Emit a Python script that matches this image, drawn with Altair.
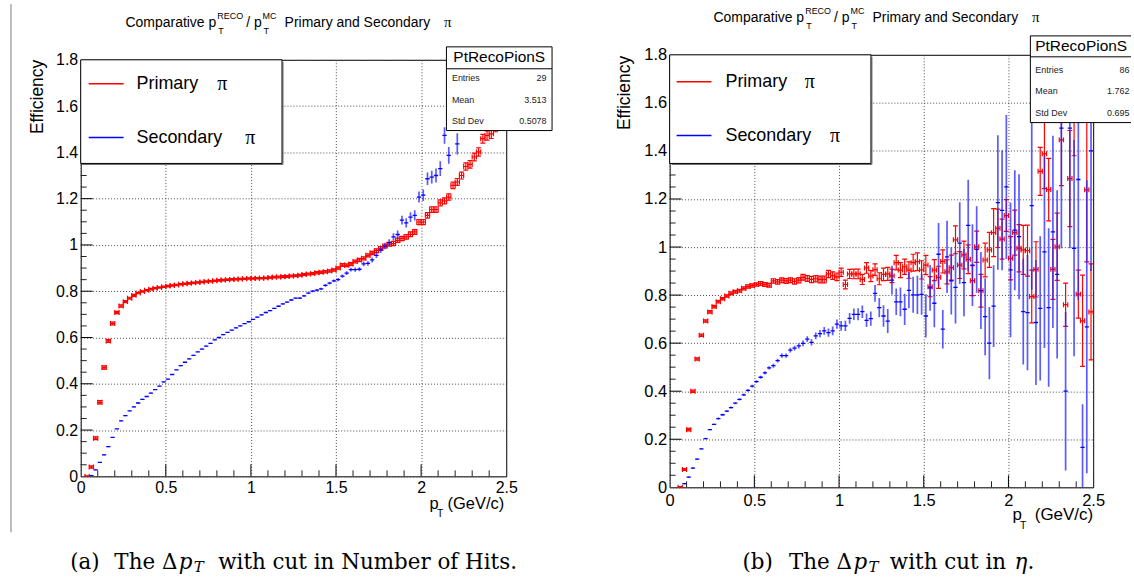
import altair as alt
import pandas as pd

SANS = "Liberation Sans"
SERIF = "Liberation Serif"
CAPTION_FONT = "DejaVu Serif"
RED = "#ff0000"
BLUE = "#0000ff"

# half of the 0.025 GeV/c bin width, drawn as the horizontal error bar
HALF_BIN = 0.0125

# pT bin centres (GeV/c)
PT_BINS = [
    0.0375, 0.0625, 0.0875, 0.1125, 0.1375, 0.1625, 0.1875, 0.2125, 0.2375, 0.2625,
    0.2875, 0.3125, 0.3375, 0.3625, 0.3875, 0.4125, 0.4375, 0.4625, 0.4875, 0.5125,
    0.5375, 0.5625, 0.5875, 0.6125, 0.6375, 0.6625, 0.6875, 0.7125, 0.7375, 0.7625,
    0.7875, 0.8125, 0.8375, 0.8625, 0.8875, 0.9125, 0.9375, 0.9625, 0.9875, 1.0125,
    1.0375, 1.0625, 1.0875, 1.1125, 1.1375, 1.1625, 1.1875, 1.2125, 1.2375, 1.2625,
    1.2875, 1.3125, 1.3375, 1.3625, 1.3875, 1.4125, 1.4375, 1.4625, 1.4875, 1.5125,
    1.5375, 1.5625, 1.5875, 1.6125, 1.6375, 1.6625, 1.6875, 1.7125, 1.7375, 1.7625,
    1.7875, 1.8125, 1.8375, 1.8625, 1.8875, 1.9125, 1.9375, 1.9625, 1.9875, 2.0125,
    2.0375, 2.0625, 2.0875, 2.1125, 2.1375, 2.1625, 2.1875, 2.2125, 2.2375, 2.2625,
    2.2875, 2.3125, 2.3375, 2.3625, 2.3875, 2.4125, 2.4375, 2.4625, 2.4875,
]

# (a) cut in number of hits
A_PRIM_EFF = [
    0.000, 0.040, 0.165, 0.320, 0.470, 0.585, 0.660, 0.708, 0.736, 0.755,
    0.770, 0.782, 0.792, 0.799, 0.804, 0.809, 0.813, 0.816, 0.819, 0.822,
    0.825, 0.827, 0.830, 0.832, 0.834, 0.836, 0.838, 0.840, 0.842, 0.843,
    0.845, 0.847, 0.848, 0.850, 0.851, 0.852, 0.853, 0.854, 0.855, 0.855,
    0.856, 0.856, 0.857, 0.859, 0.861, 0.861, 0.863, 0.864, 0.866, 0.867,
    0.869, 0.872, 0.874, 0.876, 0.880, 0.882, 0.884, 0.887, 0.892, 0.900,
    0.913, 0.912, 0.918, 0.928, 0.935, 0.942, 0.955, 0.965, 0.975, 0.985,
    0.995, 1.003, 1.006, 1.020, 1.028, 1.035, 1.046, 1.056, 1.099, 1.099,
    1.128, 1.153, 1.153, 1.182, 1.190, 1.207, 1.257, 1.272, 1.300, 1.339,
    1.348, 1.380, 1.402, 1.459, 1.473, 1.480, 1.510, 1.530, 1.560,
]
A_PRIM_ERR = [
    0.002, 0.005, 0.006, 0.007, 0.007, 0.006, 0.006, 0.005, 0.005, 0.004,
    0.004, 0.004, 0.003, 0.003, 0.003, 0.003, 0.003, 0.003, 0.003, 0.003,
    0.003, 0.003, 0.003, 0.003, 0.003, 0.003, 0.003, 0.003, 0.003, 0.003,
    0.003, 0.003, 0.003, 0.003, 0.003, 0.003, 0.003, 0.003, 0.003, 0.003,
    0.003, 0.003, 0.003, 0.003, 0.003, 0.004, 0.004, 0.004, 0.004, 0.004,
    0.004, 0.004, 0.004, 0.004, 0.005, 0.005, 0.005, 0.005, 0.005, 0.005,
    0.006, 0.006, 0.006, 0.006, 0.007, 0.007, 0.007, 0.007, 0.008, 0.008,
    0.008, 0.008, 0.009, 0.009, 0.009, 0.010, 0.010, 0.010, 0.011, 0.011,
    0.012, 0.012, 0.012, 0.013, 0.013, 0.014, 0.014, 0.015, 0.015, 0.016,
    0.016, 0.017, 0.018, 0.019, 0.020, 0.020, 0.021, 0.022, 0.023,
]
A_SEC_EFF = [
    None, 0.003, 0.028, 0.060, 0.093, 0.128, 0.168, 0.205, 0.240, 0.262,
    0.283, 0.300, 0.317, 0.333, 0.345, 0.360, 0.375, 0.390, 0.408, 0.420,
    0.440, 0.460, 0.478, 0.493, 0.508, 0.523, 0.538, 0.550, 0.563, 0.575,
    0.590, 0.600, 0.612, 0.622, 0.632, 0.642, 0.650, 0.660, 0.668, 0.678,
    0.688, 0.698, 0.708, 0.716, 0.726, 0.735, 0.745, 0.753, 0.762, 0.770,
    0.770, 0.780, 0.792, 0.800, 0.805, 0.810, 0.825, 0.835, 0.845, 0.850,
    0.865, 0.878, 0.893, 0.893, 0.895, 0.918, 0.920, 0.935, 0.955, 0.978,
    0.995, 1.010, 1.035, 1.045, 1.107, 1.095, 1.120, 1.128, 1.207, 1.215,
    1.286, 1.293, 1.300, 1.330, 1.473, 1.387, None, 1.437, None, None,
    None, None, None, None, None, None, None, None, None,
]
A_SEC_ERR = [
    None, 0.002, 0.002, 0.002, 0.002, 0.002, 0.002, 0.002, 0.002, 0.002,
    0.002, 0.002, 0.002, 0.002, 0.002, 0.002, 0.002, 0.002, 0.002, 0.002,
    0.002, 0.002, 0.002, 0.002, 0.002, 0.002, 0.002, 0.002, 0.002, 0.002,
    0.002, 0.002, 0.002, 0.002, 0.002, 0.002, 0.002, 0.002, 0.002, 0.002,
    0.003, 0.003, 0.003, 0.003, 0.003, 0.003, 0.003, 0.003, 0.003, 0.003,
    0.004, 0.004, 0.004, 0.005, 0.005, 0.005, 0.006, 0.006, 0.006, 0.007,
    0.007, 0.008, 0.008, 0.009, 0.009, 0.010, 0.010, 0.011, 0.012, 0.013,
    0.014, 0.015, 0.016, 0.017, 0.019, 0.020, 0.021, 0.022, 0.024, 0.025,
    0.027, 0.028, 0.030, 0.032, 0.036, 0.036, None, 0.046, None, None,
    None, None, None, None, None, None, None, None, None,
]

# (b) cut in eta
B_PRIM_EFF = [
    None, 0.000, 0.074, 0.240, 0.400, 0.534, 0.633, 0.692, 0.730, 0.752,
    0.772, 0.785, 0.796, 0.808, 0.814, 0.818, 0.828, 0.836, 0.840, 0.844,
    0.848, 0.844, 0.841, 0.859, 0.855, 0.862, 0.859, 0.862, 0.857, 0.862,
    0.874, 0.869, 0.865, 0.868, 0.865, 0.865, 0.888, 0.881, 0.876, 0.895,
    0.844, 0.888, 0.888, 0.888, 0.865, 0.913, 0.879, 0.906, 0.868, 0.886,
    0.888, 0.880, 0.935, 0.904, 0.918, 0.904, 0.935, 0.939, 0.905, 0.925,
    0.835, 0.904, 0.874, 0.940, 0.897, 0.914, 1.030, 0.925, 0.967, 0.949,
    0.860, 1.001, 0.818, 0.946, 0.988, 1.060, 1.078, 1.033, 1.131, 0.953,
    1.060, 0.995, 0.988, 0.985, 0.794, 0.907, 1.315, 1.388, 1.239, 0.907,
    1.001, 1.446, 0.760, 1.285, 1.600, 0.804, 0.693, 1.238, 0.730,
]
B_PRIM_ERR = [
    None, 0.003, 0.004, 0.005, 0.005, 0.005, 0.005, 0.005, 0.005, 0.005,
    0.005, 0.005, 0.005, 0.006, 0.006, 0.006, 0.006, 0.007, 0.007, 0.007,
    0.008, 0.008, 0.008, 0.009, 0.009, 0.010, 0.010, 0.010, 0.011, 0.011,
    0.012, 0.012, 0.013, 0.013, 0.014, 0.014, 0.015, 0.016, 0.016, 0.017,
    0.018, 0.019, 0.020, 0.020, 0.021, 0.022, 0.023, 0.024, 0.025, 0.026,
    0.027, 0.028, 0.030, 0.031, 0.032, 0.034, 0.035, 0.037, 0.038, 0.040,
    0.042, 0.044, 0.046, 0.048, 0.050, 0.052, 0.058, 0.056, 0.058, 0.060,
    0.062, 0.065, 0.068, 0.070, 0.073, 0.100, 0.080, 0.083, 0.066, 0.090,
    0.094, 0.098, 0.102, 0.106, 0.110, 0.115, 0.100, 0.145, 0.130, 0.125,
    0.140, 0.190, 0.090, 0.200, 0.220, 0.100, 0.190, 0.300, 0.200,
]
B_SEC_EFF = [
    None, None, 0.015, 0.042, 0.080, 0.117, 0.160, 0.203, 0.240, 0.262,
    0.286, 0.302, 0.317, 0.332, 0.350, 0.366, 0.385, 0.403, 0.421, 0.440,
    0.458, 0.476, 0.497, 0.506, 0.527, 0.548, 0.548, 0.571, 0.579, 0.589,
    0.599, 0.617, 0.603, 0.630, 0.640, 0.651, 0.644, 0.651, 0.679, 0.672,
    0.672, 0.703, 0.720, 0.720, 0.731, 0.695, 0.702, 0.807, 0.748, 0.713,
    0.692, 0.862, 0.772, 0.772, 0.741, 0.820, 0.801, 0.801, 0.803, 0.713,
    0.830, 0.766, 0.970, 0.658, 0.959, 0.859, 0.832, 1.016, 0.852, 1.090,
    0.925, 0.990, 0.819, 0.710, 0.600, 0.754, 1.185, 1.153, 1.250, 0.905,
    1.070, 1.043, 0.731, 0.727, 1.172, 0.686, 0.745, 0.980, 0.748, 1.063,
    0.886, 1.495, 0.400, 1.495, 0.995, 1.281, 0.166, 0.668, 1.400,
]
B_SEC_ERR = [
    None, None, 0.003, 0.003, 0.003, 0.003, 0.003, 0.003, 0.003, 0.003,
    0.004, 0.004, 0.004, 0.004, 0.004, 0.005, 0.005, 0.005, 0.006, 0.006,
    0.006, 0.007, 0.007, 0.008, 0.008, 0.009, 0.009, 0.010, 0.010, 0.011,
    0.012, 0.012, 0.013, 0.014, 0.015, 0.016, 0.017, 0.018, 0.019, 0.020,
    0.021, 0.022, 0.024, 0.025, 0.026, 0.028, 0.030, 0.035, 0.040, 0.045,
    0.050, 0.060, 0.055, 0.060, 0.065, 0.075, 0.075, 0.080, 0.085, 0.090,
    0.095, 0.100, 0.130, 0.080, 0.150, 0.140, 0.150, 0.170, 0.140, 0.190,
    0.170, 0.180, 0.160, 0.160, 0.150, 0.170, 0.280, 0.250, 0.300, 0.280,
    0.250, 0.260, 0.220, 0.240, 0.350, 0.260, 0.300, 0.400, 0.330, 0.400,
    0.350, 0.500, 0.330, 0.500, 0.450, 0.500, 0.180, 0.610, 0.500,
]

X_LABELS = [0, 0.5, 1, 1.5, 2, 2.5]
Y_LABELS = [0, 0.2, 0.4, 0.6, 0.8, 1.0, 1.2, 1.4, 1.6, 1.8]
X_MAJOR = [0.5, 1.0, 1.5, 2.0]
X_MINOR = [0.1, 0.2, 0.3, 0.4, 0.6, 0.7, 0.8, 0.9, 1.1, 1.2, 1.3, 1.4,
           1.6, 1.7, 1.8, 1.9, 2.1, 2.2, 2.3, 2.4]
Y_MAJOR = [0.2, 0.4, 0.6, 0.8, 1.0, 1.2, 1.4, 1.6]
Y_MINOR = [0.05, 0.1, 0.15, 0.25, 0.3, 0.35, 0.45, 0.5, 0.55, 0.65, 0.7, 0.75,
           0.85, 0.9, 0.95, 1.05, 1.1, 1.15, 1.25, 1.3, 1.35, 1.45, 1.5, 1.55,
           1.65, 1.7, 1.75]

STATS_A = [("Entries", "29"), ("Mean", "3.513"), ("Std Dev", "0.5078")]
STATS_B = [("Entries", "86"), ("Mean", "1.762"), ("Std Dev", "0.695")]

ONE = pd.DataFrame({"k": [0]})


def series_frame(eff, err):
    df = pd.DataFrame({"pt": PT_BINS, "eff": eff, "err": err}).dropna()
    df["lo"] = df["pt"] - HALF_BIN
    df["hi"] = df["pt"] + HALF_BIN
    df["elo"] = df["eff"] - df["err"]
    df["ehi"] = df["eff"] + df["err"]
    return df


def text(s, x, y, size, font=SANS, align="left", baseline="alphabetic",
         style=None, angle=None, color="black"):
    kw = dict(text=s, align=align, baseline=baseline, fontSize=size,
              font=font, color=color)
    if style:
        kw["fontStyle"] = style
    if angle is not None:
        kw["angle"] = angle
    return alt.Chart(ONE).mark_text(**kw).encode(x=alt.value(x), y=alt.value(y))


def rule(x1, y1, x2, y2, color="black", width=1.0):
    return alt.Chart(ONE).mark_rule(color=color, strokeWidth=width).encode(
        x=alt.value(x1), x2=alt.value(x2), y=alt.value(y1), y2=alt.value(y2))


def box(x1, y1, x2, y2, stroke="black", fill="white"):
    kw = dict(fill=fill)
    if stroke:
        kw.update(stroke=stroke, strokeWidth=1)
    return alt.Chart(ONE).mark_rect(**kw).encode(
        x=alt.value(x1), x2=alt.value(x2), y=alt.value(y1), y2=alt.value(y2))


def panel(prim, sec, g):
    W, H = g["w"], g["h"]
    xs = alt.Scale(domain=[0, 2.5], nice=False, zero=False)
    ys = alt.Scale(domain=[0, 1.8], nice=False, zero=False)
    common = dict(grid=True, gridDash=[1, 2], gridColor="#4a4a4a", gridWidth=1,
                  domain=False, ticks=False, labelFont=SANS,
                  labelFontSize=g["lab"], labelColor="black", labelFlush=False,
                  labelOverlap=False, title=None)
    x_axis = alt.Axis(values=X_LABELS, format="~g", labelPadding=g["xpad"], **common)
    y_axis = alt.Axis(values=Y_LABELS, format="~g", labelPadding=3, **common)

    def X(f):
        return alt.X(f, type="quantitative", scale=xs, axis=x_axis)

    def Y(f):
        return alt.Y(f, type="quantitative", scale=ys, axis=y_axis)

    r = alt.Chart(prim)
    b = alt.Chart(sec)
    cap = dict(color=RED, thickness=1.2, size=5, opacity=1, clip=True)
    layers = [
        # primary: error bars with end caps
        r.mark_rule(color=RED, strokeWidth=1.2, clip=True).encode(
            x=X("lo"), x2="hi:Q", y=Y("eff")),
        r.mark_rule(color=RED, strokeWidth=1.2, clip=True).encode(
            x=X("pt"), y=Y("elo"), y2="ehi:Q"),
        r.mark_tick(orient="vertical", **cap).encode(x=X("lo"), y=Y("eff")),
        r.mark_tick(orient="vertical", **cap).encode(x=X("hi"), y=Y("eff")),
        r.mark_tick(orient="horizontal", **cap).encode(x=X("pt"), y=Y("elo")),
        r.mark_tick(orient="horizontal", **cap).encode(x=X("pt"), y=Y("ehi")),
        # secondary: plain crosses
        b.mark_rule(color="#2424ff", strokeWidth=1.7, opacity=0.75, clip=True).encode(
            x=X("pt"), y=Y("elo"), y2="ehi:Q"),
        b.mark_rule(color=BLUE, strokeWidth=1.3, clip=True).encode(
            x=X("lo"), x2="hi:Q", y=Y("eff")),
        # inward axis ticks
        alt.Chart(pd.DataFrame({"v": Y_MAJOR})).mark_rule(color="black").encode(
            y=Y("v"), x=alt.value(0), x2=alt.value(12)),
        alt.Chart(pd.DataFrame({"v": Y_MINOR})).mark_rule(color="#222222").encode(
            y=Y("v"), x=alt.value(0), x2=alt.value(6)),
        alt.Chart(pd.DataFrame({"v": X_MAJOR})).mark_rule(color="black").encode(
            x=X("v"), y=alt.value(H), y2=alt.value(H - 12)),
        alt.Chart(pd.DataFrame({"v": X_MINOR})).mark_rule(color="#222222").encode(
            x=X("v"), y=alt.value(H), y2=alt.value(H - 6)),
    ]

    # legend
    lg = g["legend"]
    layers += [
        rule(2, lg["h"] + 1, lg["w"] + 1, lg["h"] + 1, color="#666666"),
        rule(lg["w"] + 1, 2, lg["w"] + 1, lg["h"] + 1, color="#666666"),
        box(0, 0, lg["w"], lg["h"]),
        rule(lg["lx1"], lg["y1"], lg["lx2"], lg["y1"], color=RED, width=1.5),
        rule(lg["lx1"], lg["y2"], lg["lx2"], lg["y2"], color=BLUE, width=1.5),
        text("Primary", lg["tx"], lg["y1"], 18, baseline="middle"),
        text("\u03c0", lg["pi1"], lg["y1"], 20, font=SERIF, baseline="middle"),
        text("Secondary", lg["tx"], lg["y2"], 18, baseline="middle"),
        text("\u03c0", lg["pi2"], lg["y2"], 20, font=SERIF, baseline="middle"),
    ]

    # statistics box
    st = g["stats"]
    if st["closed"]:
        layers.append(box(st["x1"], st["y1"], st["x2"], st["y2"]))
    else:
        layers += [
            box(st["x1"], st["y1"], st["x2"], st["y2"], stroke=None),
            rule(st["x1"], st["y1"], st["x2"], st["y1"]),
            rule(st["x1"], st["y2"], st["x2"], st["y2"]),
            rule(st["x1"], st["y1"], st["x1"], st["y2"]),
        ]
    layers += [
        rule(st["x1"], st["hy"], st["x2"], st["hy"]),
        text("PtRecoPionS", st["cx"], st["cy"], 15.5, align="center", baseline="middle"),
    ]
    for (name, val), ry in zip(st["rows"], st["ry"]):
        layers += [
            text(name, st["tx"], ry, 9, baseline="middle", color="#222222"),
            text(val, st["vx"], ry, 9, align="right", baseline="middle", color="#222222"),
        ]

    # title  "Comparative pT^RECO / pT^MC  Primary and Secondary  pi"
    t0, tb = g["tx"], -33
    layers += [
        text("Comparative p", t0, tb, 14),
        text("RECO", t0 + 92, tb - 7.5, 9),
        text("T", t0 + 93, tb + 7, 9),
        text("/ p", t0 + 121, tb, 14),
        text("MC", t0 + 137.5, tb - 7.5, 9),
        text("T", t0 + 138.5, tb + 7, 9),
        text("Primary and Secondary", t0 + 159.6, tb, 14),
        text("\u03c0", t0 + 319.6, tb, 15, font=SERIF),
    ]

    # axis titles
    layers += [
        text("Efficiency", g["ytx"], g["yty"], 17.5, align="right",
             baseline="middle", angle=270),
        text("p", g["px"], H + g["pb"], g["xts"]),
        text("T", g["px"] + 7.5, H + g["pb"] + 8.5, 10.5),
        text("(GeV/c)", W - g["xr"], H + g["pb"], g["xts"], align="right"),
    ]

    # caption below the pad
    cp = g["cap"]
    cb = cp["base"]
    layers += [
        text(cp["tag"], cp["ax"], cb, 21.5, font=CAPTION_FONT),
        text("The \u0394", cp["dx"], cb, 21.5, font=CAPTION_FONT, align="right"),
        text("p", cp["dx"] + 1.5, cb, 21.5, font=CAPTION_FONT, style="italic"),
        text("T", cp["tx"], cb + 3, 15, font=CAPTION_FONT, style="italic"),
        text(cp["tail"], cp["wx"], cb, 21.5, font=CAPTION_FONT),
    ]
    if cp.get("eta"):
        layers += [
            text("\u03b7", cp["eta"], cb, 21.5, font=CAPTION_FONT, style="italic"),
            text(".", cp["eta"] + 13, cb, 21.5, font=CAPTION_FONT),
        ]

    # page decorations and white extent markers that fix the pad placement
    for d in g["lines"]:
        layers.append(rule(*d))
    for (x1, y1) in g["marks"]:
        layers.append(box(x1, y1, x1 + 1, y1 + 1, stroke=None))

    return alt.layer(*layers).properties(
        width=W, height=H,
        view=alt.ViewBackground(stroke="black", strokeWidth=1))


def spacer():
    return alt.Chart(ONE).mark_rect(fill="white").encode(
        x=alt.value(0), x2=alt.value(1), y=alt.value(0), y2=alt.value(1)
    ).properties(width=1, height=1)


LEFT = dict(
    w=427, h=418, lab=16, xpad=3, tx=45,
    legend=dict(w=202, h=104, lx1=8, lx2=43, y1=24, y2=78, tx=56, pi1=137, pi2=165),
    stats=dict(closed=True, x1=367, y1=-13, x2=473, y2=71, hy=9, cx=420, cy=-2.5,
               tx=372.5, vx=467.5, ry=[18.3, 40, 61], rows=STATS_A),
    ytx=-42.5, yty=0, px=350, pb=32.5, xts=16.5, xr=2,
    cap=dict(base=511, tag="(a)", ax=-10.5, dx=97, tx=113.5, wx=138,
             tail="with cut in Number of Hits."),
    lines=[(-70, -56, -70, 474, "#a8a8a8", 1.5)],
    marks=[(-80, -57.5), (486, -57.5)],
)

RIGHT = dict(
    w=425, h=434, lab=16.5, xpad=5, tx=44,
    legend=dict(w=202, h=109, lx1=7, lx2=42, y1=27, y2=81, tx=56, pi1=135.5, pi2=161),
    stats=dict(closed=False, x1=362, y1=-19, x2=463, y2=68, hy=2, cx=413, cy=-8.5,
               tx=367, vx=461.5, ry=[15, 36.3, 58], rows=STATS_B),
    ytx=-45, yty=1, px=344, pb=33, xts=17, xr=0,
    cap=dict(base=516, tag="(b)", ax=73, dx=183, tx=199.6, wx=221,
             tail="with cut in", eta=346),
    lines=[],
    marks=[(-102, -52.5), (464, -52.5)],
)

left = panel(series_frame(A_PRIM_EFF, A_PRIM_ERR), series_frame(A_SEC_EFF, A_SEC_ERR), LEFT)
right = panel(series_frame(B_PRIM_EFF, B_PRIM_ERR), series_frame(B_SEC_EFF, B_SEC_ERR), RIGHT)

chart = (
    alt.hconcat(
        alt.vconcat(spacer(), left, spacing=0),
        alt.vconcat(spacer(), right, spacing=0),
        spacing=0,
    )
    .properties(padding=0)
    .configure_view(strokeWidth=0)
)

chart.save("out.html", embed_options={"renderer": "svg", "actions": False})
